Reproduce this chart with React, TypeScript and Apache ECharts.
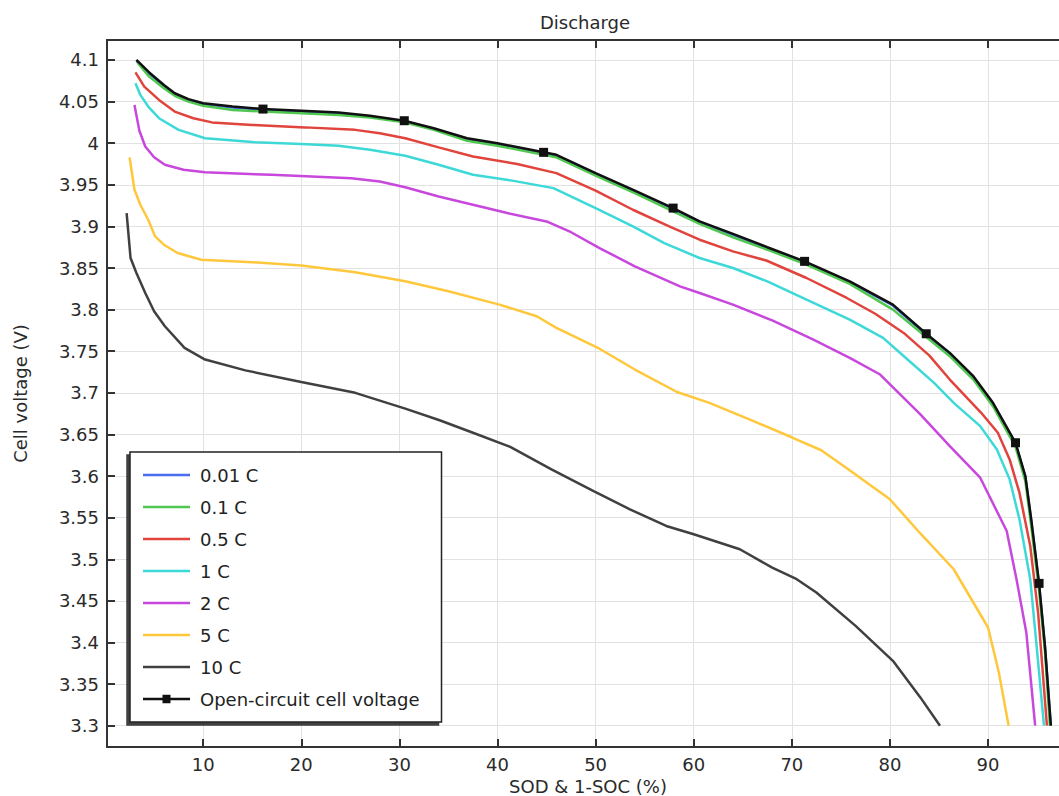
import React, { useEffect, useRef } from "react";
import * as echarts from "echarts";

const FONT = "DejaVu Sans";

const chartTitle = "Discharge";
const xAxisTitle = "SOD & 1-SOC (%)";
const yAxisTitle = "Cell voltage (V)";

const xTicks = [10, 20, 30, 40, 50, 60, 70, 80, 90];
const yTicks = [3.3, 3.35, 3.4, 3.45, 3.5, 3.55, 3.6, 3.65, 3.7, 3.75, 3.8, 3.85, 3.9, 3.95, 4, 4.05, 4.1];

const names = ["0.01 C", "0.1 C", "0.5 C", "1 C", "2 C", "5 C", "10 C", "Open-circuit cell voltage"];
const colors = ["#4a6cf0", "#50c850", "#e0443c", "#3dd8d8", "#c847dc", "#ffc83c", "#404040", "#111111"];

const c001: [number, number][] = [
  [3.2, 4.099], [4.5, 4.084], [6.0, 4.069], [7.1, 4.059], [8.5, 4.052], [10, 4.047], [13, 4.043], [16.1, 4.04],
  [20, 4.038], [23.8, 4.036], [27, 4.032], [30.5, 4.026], [33.5, 4.017], [36.9, 4.005], [40, 3.999], [44.7, 3.988],
  [46, 3.985], [50, 3.963], [54, 3.942], [57.9, 3.921], [60.6, 3.905], [64, 3.89], [67.5, 3.874], [71.3, 3.857],
  [75.9, 3.833], [80.3, 3.805], [83.7, 3.77], [86.1, 3.747], [88.5, 3.719], [90.5, 3.687], [92.8, 3.639],
  [93.8, 3.599], [94.4, 3.546], [95.2, 3.469], [95.8, 3.394], [96.4, 3.3],
];

const c01: [number, number][] = [
  [3.3, 4.097], [4.5, 4.08], [6.0, 4.066], [7.1, 4.057], [8.5, 4.05], [10, 4.045], [13, 4.04], [16.1, 4.038],
  [20, 4.036], [23.8, 4.034], [27, 4.031], [30.5, 4.025], [33.5, 4.016], [36.9, 4.003], [40, 3.997], [44.7, 3.986],
  [46, 3.983], [50, 3.961], [54, 3.94], [57.9, 3.918], [60.6, 3.903], [64, 3.887], [67.5, 3.872], [71.3, 3.855],
  [75.9, 3.831], [80.3, 3.8], [83.7, 3.767], [86.1, 3.744], [88.5, 3.716], [90.5, 3.684], [92.8, 3.635],
  [93.8, 3.594], [94.4, 3.54], [95.2, 3.462], [95.8, 3.39], [96.3, 3.3],
];

const c05: [number, number][] = [
  [3.1, 4.085], [4.0, 4.068], [5.5, 4.052], [7.1, 4.038], [9, 4.03], [10.9, 4.025], [15, 4.022], [20.4, 4.019],
  [25.5, 4.016], [28, 4.012], [30.6, 4.006], [34, 3.995], [37.5, 3.984], [42, 3.975], [46, 3.964], [50, 3.943],
  [53.8, 3.92], [57.5, 3.9], [60.6, 3.884], [64, 3.87], [67.4, 3.859], [71.5, 3.838], [75.6, 3.814], [78.5, 3.795],
  [81.4, 3.772], [84, 3.745], [86.1, 3.716], [89.3, 3.676], [91.0, 3.652], [92.2, 3.62], [93.2, 3.58],
  [94.3, 3.516], [95.1, 3.436], [96.0, 3.3],
];

const c1: [number, number][] = [
  [3.1, 4.072], [3.6, 4.058], [4.4, 4.044], [5.5, 4.03], [7.5, 4.016], [10.2, 4.006], [15.3, 4.001], [20, 3.999],
  [23.8, 3.997], [27, 3.992], [30.6, 3.985], [34, 3.974], [37.5, 3.962], [41.5, 3.955], [45.7, 3.946], [50, 3.922],
  [53.8, 3.9], [57, 3.88], [60.6, 3.862], [64, 3.85], [67.5, 3.834], [71.5, 3.812], [75.9, 3.788], [79.3, 3.766],
  [82, 3.738], [84.5, 3.712], [86.5, 3.688], [89.2, 3.66], [90.9, 3.632], [92.2, 3.596], [93.2, 3.548],
  [94.3, 3.476], [94.95, 3.396], [95.7, 3.3],
];

const c2: [number, number][] = [
  [3.0, 4.046], [3.5, 4.015], [4.1, 3.996], [5, 3.983], [6.1, 3.974], [8, 3.968], [10.2, 3.965], [17, 3.962],
  [25.1, 3.958], [28, 3.954], [30.6, 3.947], [34, 3.936], [37.5, 3.926], [41, 3.916], [45, 3.906], [47.5, 3.893],
  [50.4, 3.874], [54, 3.852], [58.6, 3.828], [60.6, 3.82], [64, 3.806], [68, 3.787], [72.2, 3.764], [75.9, 3.742],
  [79, 3.722], [83.1, 3.674], [86.1, 3.636], [89.2, 3.598], [91.9, 3.534], [92.9, 3.476], [93.9, 3.412], [94.8, 3.3],
];

const c5: [number, number][] = [
  [2.5, 3.983], [3.0, 3.944], [3.6, 3.926], [4.4, 3.908], [5.1, 3.888], [6, 3.878], [7.4, 3.868], [9.8, 3.86],
  [15, 3.857], [20, 3.853], [25.5, 3.845], [30.6, 3.834], [35, 3.822], [40.2, 3.806], [44, 3.792], [46, 3.778],
  [50.4, 3.753], [54, 3.728], [58.3, 3.701], [61.6, 3.688], [66.1, 3.666], [70.1, 3.646], [73, 3.631], [76, 3.606],
  [80, 3.572], [83.1, 3.531], [86.5, 3.488], [90.0, 3.418], [91.1, 3.364], [92.1, 3.3],
];

const c10: [number, number][] = [
  [2.2, 3.916], [2.6, 3.862], [3.2, 3.844], [4.1, 3.82], [5.0, 3.798], [6.1, 3.78], [8.1, 3.754], [10.2, 3.74],
  [14.3, 3.727], [20, 3.713], [25.5, 3.7], [30.6, 3.681], [34.1, 3.667], [37.5, 3.652], [41.3, 3.635], [45.5, 3.608],
  [49.8, 3.582], [53.5, 3.56], [57.2, 3.54], [60, 3.53], [64.7, 3.512], [68, 3.49], [70.5, 3.476], [72.5, 3.46],
  [76.5, 3.42], [80.3, 3.378], [83.1, 3.334], [85.1, 3.3],
];

const ocv: [number, number][] = [
  [3.2, 4.1], [4.5, 4.085], [6.0, 4.07], [7.1, 4.06], [8.5, 4.053], [10, 4.048], [13, 4.044], [16.1, 4.041],
  [20, 4.039], [23.8, 4.037], [27, 4.033], [30.5, 4.027], [33.5, 4.018], [36.9, 4.006], [40, 4.0], [44.7, 3.989],
  [46, 3.986], [50, 3.964], [54, 3.943], [57.9, 3.922], [60.6, 3.906], [64, 3.891], [67.5, 3.875], [71.3, 3.858],
  [75.9, 3.834], [80.3, 3.806], [83.7, 3.771], [86.1, 3.748], [88.5, 3.72], [90.5, 3.688], [92.8, 3.64],
  [93.8, 3.6], [94.4, 3.548], [95.2, 3.471], [95.8, 3.396], [96.4, 3.3],
];
const ocvMarkerX = [16.1, 30.5, 44.7, 57.9, 71.3, 83.7, 92.8, 95.2];

const curves = [c001, c01, c05, c1, c2, c5, c10];

const lineIcon = "path://M0,0H47V2.6H0Z";
const ocvIcon = "path://M0,3H19.5V0H27.5V3H47V5.6H27.5V8.6H19.5V5.6H0Z";

export default function App() {
  const ref = useRef<HTMLDivElement>(null);
  useEffect(() => {
    if (!ref.current) return;
    const chart = echarts.init(ref.current, undefined, { renderer: "svg" });
    const drawOrder = [6, 5, 4, 3, 2, 0, 1];
    const series: any[] = drawOrder.map((i) => ({
      name: names[i],
      type: "line",
      data: curves[i],
      color: colors[i],
      symbol: "none",
      showSymbol: false,
      lineStyle: { width: 2.5, color: colors[i] },
      z: 2,
    }));
    series.push({
      name: names[7],
      type: "line",
      color: colors[7],
      symbol: "rect",
      symbolSize: 9,
      showSymbol: true,
      lineStyle: { width: 2.5, color: colors[7] },
      itemStyle: { color: colors[7] },
      data: ocv.map((p) => ({ value: p, symbol: ocvMarkerX.includes(p[0]) ? "rect" : "none" })),
      z: 3,
    });

    const axisLineStyle = { color: "#333", width: 2 };
    const textBase = { fontFamily: FONT, fontSize: 18, color: "#2a2a2a" };

    chart.setOption({
      animation: false,
      backgroundColor: "#fff",
      grid: { left: 107, right: -10, top: 40, bottom: 49, outerBoundsMode: "none", containLabel: false },
      title: { show: false },
      graphic: [
        {
          type: "text",
          x: 585,
          y: 22,
          style: {
            text: chartTitle,
            textAlign: "center",
            textVerticalAlign: "middle",
            align: "center",
            verticalAlign: "middle",
            font: `18px "${FONT}"`,
            fill: "#2a2a2a",
          },
        },
      ],
      legend: {
        orient: "vertical",
        left: 130,
        top: 452,
        padding: [14, 22, 14, 13],
        itemWidth: 47,
        itemHeight: 14,
        itemGap: 14,
        backgroundColor: "#fff",
        borderColor: "#222",
        borderWidth: 1.5,
        shadowColor: "rgba(0,0,0,0.75)",
        shadowBlur: 0,
        shadowOffsetX: -3,
        shadowOffsetY: 3,
        textStyle: { ...textBase, color: "#222", padding: [0, 0, 0, 5] },
        data: names.map((n, i) => ({ name: n, icon: i === 7 ? ocvIcon : lineIcon })),
        selectedMode: false,
      },
      xAxis: [
        {
          type: "value",
          position: "bottom",
          min: 0.2,
          max: 98.25,
          name: xAxisTitle,
          nameLocation: "middle",
          nameGap: 25,
          nameTextStyle: { ...textBase },
          axisLine: { show: true, lineStyle: axisLineStyle },
          axisTick: { show: true, inside: true, length: 8, customValues: xTicks, lineStyle: axisLineStyle },
          axisLabel: { show: true, customValues: xTicks, margin: 8, ...textBase },
          splitLine: { show: true, lineStyle: { color: "#e2e2e2", width: 1 } },
        },
        {
          type: "value",
          position: "top",
          min: 0.2,
          max: 98.25,
          axisLine: { show: true, lineStyle: axisLineStyle },
          axisTick: { show: true, inside: true, length: 8, customValues: xTicks, lineStyle: axisLineStyle },
          axisLabel: { show: false, customValues: xTicks },
          splitLine: { show: false },
        },
      ],
      yAxis: {
        type: "value",
        min: 3.2744,
        max: 4.124,
        name: yAxisTitle,
        nameLocation: "middle",
        nameGap: 78,
        nameRotate: 90,
        nameTextStyle: { ...textBase },
        axisLine: { show: true, lineStyle: axisLineStyle },
        axisTick: { show: true, inside: true, length: 8, customValues: yTicks, lineStyle: axisLineStyle },
        axisLabel: { show: true, customValues: yTicks, margin: 8, ...textBase },
        splitLine: { show: true, lineStyle: { color: "#e2e2e2", width: 1 } },
      },
      series,
    });
    return () => chart.dispose();
  }, []);
  return (
    <div
      ref={ref}
      style={{ position: "absolute", left: 0, top: 0, width: 1059, height: 796 }}
    />
  );
}
